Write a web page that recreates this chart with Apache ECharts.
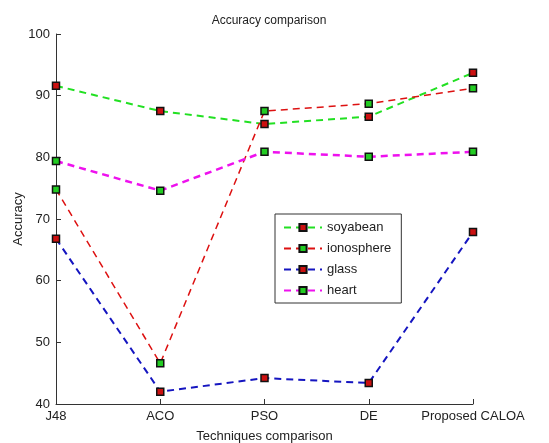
<!DOCTYPE html>
<html>
<head>
<meta charset="utf-8">
<script src="https://cdn.jsdelivr.net/npm/echarts@6/dist/echarts.min.js"></script>
<style>
  html, body { margin: 0; padding: 0; background: #fff; }
  #chart { width: 549px; height: 443px; }
</style>
</head>
<body>
<div id="chart"></div>
<script>
const techniques = ['J48', 'ACO', 'PSO', 'DE', 'Proposed CALOA']
const soyabean = [91.6, 87.5, 85.4, 86.6, 93.7]
const ionosphere = [74.8, 46.6, 87.5, 88.7, 91.2]
const glass = [66.8, 42.0, 44.2, 43.4, 67.9]
const heart = [79.4, 74.6, 80.9, 80.1, 80.9]

const font = 'Arial, "Liberation Sans", sans-serif'

function makeSeries(name, data, lineColor, markColor, width) {
  return {
    name: name,
    type: 'line',
    data: data,
    symbol: 'rect',
    symbolSize: 7,
    showAllSymbol: true,
    lineStyle: { color: lineColor, width: width, type: [7, 5] },
    itemStyle: { color: markColor, borderColor: '#111', borderWidth: 1.5 },
    emphasis: { disabled: true },
  }
}

const chart = echarts.init(document.getElementById('chart'))
chart.setOption({
  animation: false,
  backgroundColor: '#fff',
  title: {
    text: 'Accuracy comparison',
    left: 264,
    top: 10,
    textAlign: 'center',
    textStyle: { fontFamily: font, fontSize: 12, fontWeight: 'normal', color: '#222' },
  },
  grid: { left: 56, right: 76, top: 34, bottom: 39, containLabel: false, outerBoundsMode: 'none' },
  legend: {
    orient: 'vertical',
    left: 275,
    top: 214,
    itemGap: 8,
    itemWidth: 38,
    itemHeight: 9,
    padding: [7, 10, 6, 8],
    borderColor: '#333',
    borderWidth: 1,
    backgroundColor: '#fff',
    textStyle: { fontFamily: font, fontSize: 13, color: '#222' },
    data: ['soyabean', 'ionosphere', 'glass', 'heart'],
  },
  xAxis: {
    type: 'category',
    data: techniques,
    boundaryGap: false,
    name: 'Techniques comparison',
    nameLocation: 'middle',
    nameGap: 26,
    nameMoveOverlap: false,
    nameTextStyle: { fontFamily: font, fontSize: 13, color: '#222' },
    axisLine: { lineStyle: { color: '#333', width: 1 } },
    axisTick: { inside: true, length: 5, lineStyle: { color: '#333' } },
    axisLabel: { fontFamily: font, fontSize: 13, color: '#222', margin: 6, showMaxLabel: true, showMinLabel: true, interval: 0 },
    splitLine: { show: false },
  },
  yAxis: {
    type: 'value',
    min: 40,
    max: 100,
    interval: 10,
    name: 'Accuracy',
    nameLocation: 'middle',
    nameGap: 31,
    nameMoveOverlap: false,
    nameTextStyle: { fontFamily: font, fontSize: 13, color: '#222' },
    axisLine: { show: true, lineStyle: { color: '#333', width: 1 } },
    axisTick: { show: true, inside: true, length: 5, lineStyle: { color: '#333' } },
    axisLabel: { fontFamily: font, fontSize: 13, color: '#222', margin: 6 },
    splitLine: { show: false },
  },
  series: [
    makeSeries('soyabean', soyabean, '#22e022', '#cc1111', 2),
    makeSeries('ionosphere', ionosphere, '#dd1111', '#22cc22', 1.5),
    makeSeries('glass', glass, '#1515c0', '#cc1111', 2),
    makeSeries('heart', heart, '#ee11ee', '#22cc22', 2.5),
  ],
})
</script>
</body>
</html>
